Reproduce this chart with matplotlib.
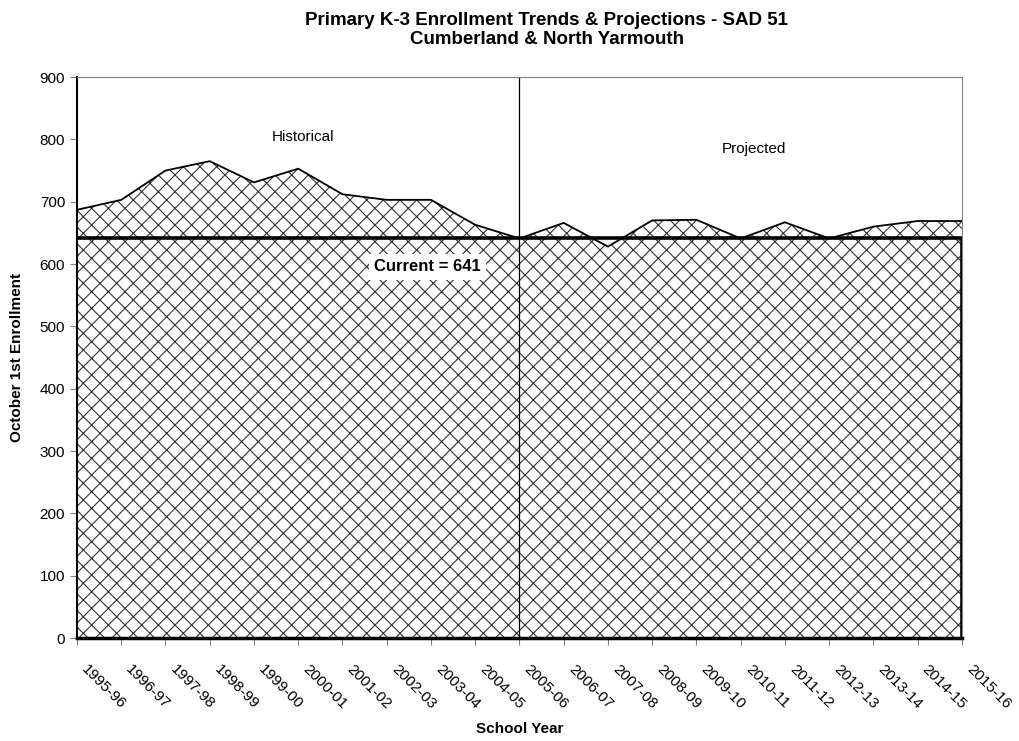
import numpy as np
import matplotlib
matplotlib.use('Agg')
import matplotlib.pyplot as plt
from matplotlib.transforms import ScaledTranslation

plt.rcParams['font.family'] = ['Liberation Sans', 'DejaVu Sans']
plt.rcParams['hatch.linewidth'] = 0.8

# Datos de matrícula
anios = ['1995-96', '1996-97', '1997-98', '1998-99', '1999-00', '2000-01', '2001-02',
         '2002-03', '2003-04', '2004-05', '2005-06', '2006-07', '2007-08', '2008-09',
         '2009-10', '2010-11', '2011-12', '2012-13', '2013-14', '2014-15', '2015-16']
matricula = [687, 703, 750, 765, 731, 753, 712, 703, 703, 663, 641,
             666, 628, 670, 671, 641, 667, 641, 660, 669, 669]
actual = 641
inicio_proy = '2005-06'

x = np.arange(len(anios))
fig = plt.figure(figsize=(10.2, 7.41), dpi=100)
ax = fig.add_axes([0.0755, 0.139, 0.8675, 0.757])

ax.fill_between(x, 0, matricula, facecolor='white', edgecolor='#333333',
                hatch='//\\\\', linewidth=0)
ax.plot(x, matricula, color='black', lw=1.3)
# rectángulo del valor actual
ax.plot([x[0], x[-1], x[-1]], [actual, actual, 0], color='black', lw=2.6)
ax.axvline(anios.index(inicio_proy), color='black', lw=0.9)

ax.set_xlim(x[0], x[-1])
ax.set_ylim(0, 900)
ax.set_yticks(range(0, 901, 100))
ax.set_xticks(x)
ax.set_xticklabels(anios, rotation=-45, ha='left', va='center', rotation_mode='anchor')
ax.tick_params(axis='both', labelsize=11, direction='out', length=5, color='#808080')
ax.tick_params(axis='x', pad=16)
desplaza = ScaledTranslation(5 / 72, 0, fig.dpi_scale_trans)
for lbl in ax.get_xticklabels():
    lbl.set_transform(lbl.get_transform() + desplaza)

for s in ['top', 'right']:
    ax.spines[s].set_color('#808080')
ax.spines['left'].set_color('black')
ax.spines['left'].set_linewidth(1.5)
ax.spines['bottom'].set_color('black')
ax.spines['bottom'].set_linewidth(2.5)

ax.text(5.1, 804, 'Historical', ha='center', va='center', fontsize=11)
ax.text(15.3, 784, 'Projected', ha='center', va='center', fontsize=11)
ax.text(7.92, 596, 'Current = 641', ha='center', va='center', fontsize=12,
        fontweight='bold', bbox=dict(facecolor='white', edgecolor='none', pad=4))

ax.set_xlabel('School Year', fontsize=11, fontweight='bold')
ax.xaxis.set_label_coords(0.5, -0.150)
ax.set_ylabel('October 1st Enrollment', fontsize=11, fontweight='bold')
ax.yaxis.set_label_coords(-0.060, 0.5)
fig.text(547 / 1020, 1 - 30 / 741,
         'Primary K-3 Enrollment Trends & Projections - SAD 51\nCumberland & North Yarmouth',
         ha='center', va='center', fontsize=13.5, fontweight='bold', linespacing=1.15)

fig.savefig('out.png', dpi=100)
